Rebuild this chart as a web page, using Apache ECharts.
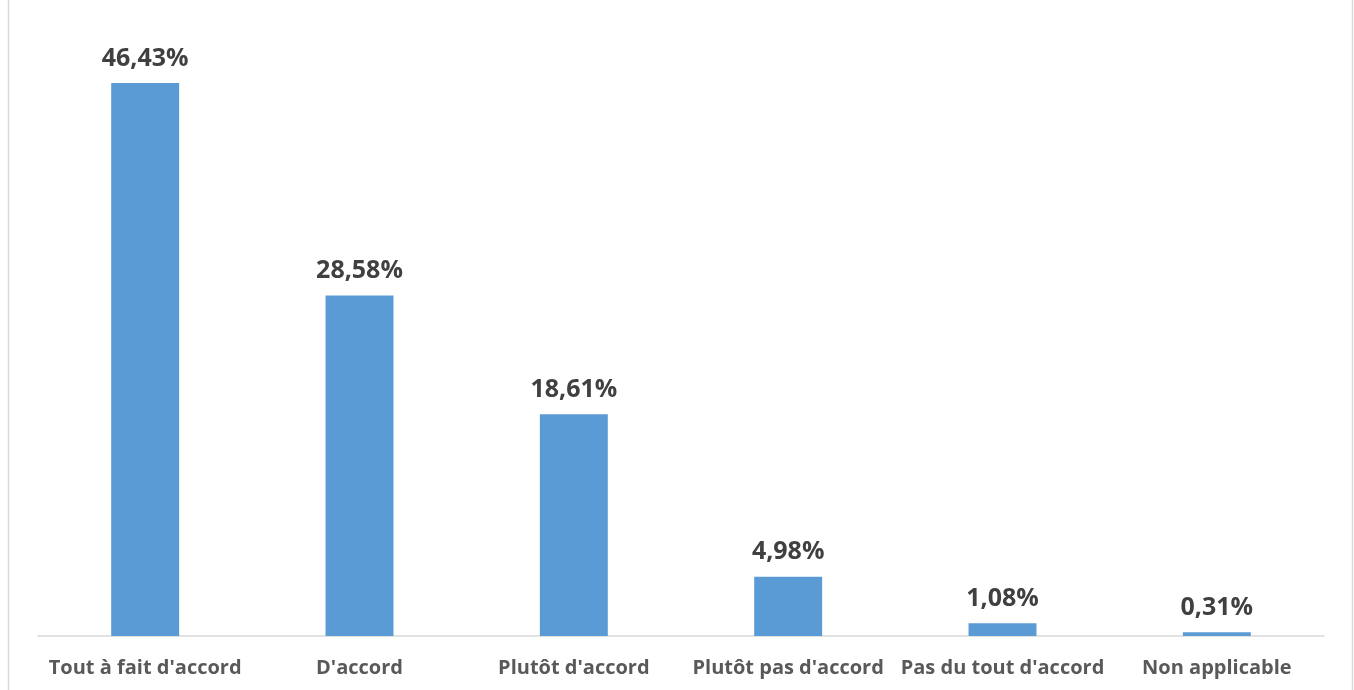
<!DOCTYPE html>
<html><head><meta charset="utf-8">
<script src="https://cdn.jsdelivr.net/npm/echarts@6/dist/echarts.min.js"></script>
<style>html,body{margin:0;padding:0;background:#fff}#c{width:1354px;height:690px}</style>
</head><body><div id="c"></div>
<script>
const categories = ["Tout à fait d'accord", "D'accord", "Plutôt d'accord", "Plutôt pas d'accord", "Pas du tout d'accord", "Non applicable"];
const values = [46.43, 28.58, 18.61, 4.98, 1.08, 0.31];

const chart = echarts.init(document.getElementById('c'));
chart.setOption({
  animation: false,
  backgroundColor: '#ffffff',
  grid: { left: 38, right: 30, top: 40.5, bottom: 54, containLabel: false },
  graphic: [
    { type: 'line', shape: { x1: 8.5, y1: 0, x2: 8.5, y2: 690 }, style: { stroke: '#d9d9d9', lineWidth: 1.5 } },
    { type: 'line', shape: { x1: 1352.5, y1: 0, x2: 1352.5, y2: 690 }, style: { stroke: '#d9d9d9', lineWidth: 1.5 } }
  ],
  xAxis: {
    type: 'category', data: categories,
    axisLine: { lineStyle: { color: '#d9d9d9', width: 1.5 } },
    axisTick: { show: false },
    axisLabel: { color: '#595959', fontSize: 20, fontWeight: 'bold', fontFamily: 'Open Sans', margin: 22, interval: 0 }
  },
  yAxis: { type: 'value', min: 0, max: 50, show: false, splitLine: { show: false } },
  series: [{
    type: 'bar', data: values, barWidth: '31.7%',
    itemStyle: { color: '#5b9bd5' },
    label: {
      show: true, position: 'top', distance: 12,
      color: '#404040', fontSize: 25, fontWeight: 'bold', fontFamily: 'Open Sans',
      formatter: p => p.value.toFixed(2).replace('.', ',') + '%'
    }
  }]
});
</script></body></html>
